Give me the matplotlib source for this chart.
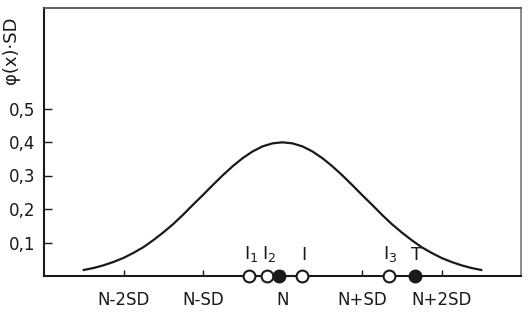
import numpy as np
import matplotlib
matplotlib.use('Agg')
import matplotlib.pyplot as plt

# curve phi(x)*SD (x in SD units, step 0.125)
curve_x = [-2.5, -2.375, -2.25, -2.125, -2.0, -1.875, -1.75, -1.625, -1.5, -1.375,
           -1.25, -1.125, -1.0, -0.875, -0.75, -0.625, -0.5, -0.375, -0.25, -0.125,
           0.0,
           0.125, 0.25, 0.375, 0.5, 0.625, 0.75, 0.875, 1.0, 1.125, 1.25,
           1.375, 1.5, 1.625, 1.75, 1.875, 2.0, 2.125, 2.25, 2.375, 2.5]
curve_y = [0.018, 0.024, 0.032, 0.042, 0.054, 0.069, 0.086, 0.107, 0.130, 0.155,
           0.183, 0.213, 0.242, 0.272, 0.301, 0.328, 0.352, 0.372, 0.387, 0.396,
           0.399,
           0.396, 0.387, 0.372, 0.352, 0.328, 0.301, 0.272, 0.242, 0.213, 0.183,
           0.155, 0.130, 0.107, 0.086, 0.069, 0.054, 0.042, 0.032, 0.024, 0.018]

# points on the axis
point_labels = ['I$_1$', 'I$_2$', '', 'I', 'I$_3$', 'T']
point_x = [-0.42, -0.19, -0.04, 0.25, 1.34, 1.67]
point_filled = [False, False, True, False, False, True]

xtick_pos = [-2, -1, 0, 1, 2]
xtick_labels = ['N-2SD', 'N-SD', 'N', 'N+SD', 'N+2SD']
ytick_pos = [0.1, 0.2, 0.3, 0.4, 0.5]
ytick_labels = ['0,1', '0,2', '0,3', '0,4', '0,5']

ink = '#1a1a1a'

fig = plt.figure(figsize=(5.29, 3.13), dpi=100)
ax = fig.add_axes([44/529, 37/313, 477/529, 268/313])

ax.plot(curve_x, curve_y, color=ink, lw=1.6)

for lab, px, filled in zip(point_labels, point_x, point_filled):
    ax.plot(px, 0, 'o', ms=8.5, mec=ink, mew=1.5,
            mfc=ink if filled else 'white', clip_on=False, zorder=5)
    if lab:
        ax.text(px + 0.02, 0.036, lab, ha='center', va='bottom', fontsize=13, color=ink)

ax.set_xlim(-3, 3)
ax.set_ylim(0, 0.8)
ax.set_xticks(xtick_pos)
ax.set_xticklabels(xtick_labels, fontsize=12, color=ink)
ax.set_yticks(ytick_pos)
ax.set_yticklabels(ytick_labels, fontsize=12, color=ink)
ax.tick_params(axis='x', direction='in', length=4, width=1, pad=11, colors=ink)
ax.tick_params(axis='y', direction='in', length=6, width=1, pad=6, colors=ink)

ax.spines['left'].set_color(ink)
ax.spines['bottom'].set_color(ink)
ax.spines['left'].set_linewidth(1.5)
ax.spines['bottom'].set_linewidth(1.5)
ax.spines['top'].set_color('#555555')
ax.spines['right'].set_color('#777777')
ax.spines['top'].set_linewidth(1.3)
ax.spines['right'].set_linewidth(1.2)

fig.text(11/529, 1 - 50/313, 'φ(x)·SD', rotation=90, ha='center', va='center',
         fontsize=13, color=ink)

fig.savefig('out.png', dpi=100, facecolor='white')
